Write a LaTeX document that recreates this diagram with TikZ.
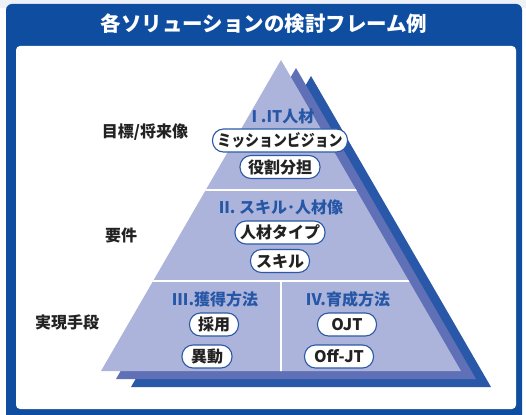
\documentclass[tikz,border=0pt]{standalone}
\usepackage{fontspec}
\setmainfont{Noto Sans CJK JP}
\definecolor{frameblue}{HTML}{0E4DA0}
\definecolor{topgray}{HTML}{EEF1F7}
\definecolor{backblue}{HTML}{2A58A9}
\definecolor{midblue}{HTML}{5F70B7}
\definecolor{lav}{HTML}{ADB4DB}
\definecolor{tierblue}{HTML}{2656A6}
\definecolor{boxblue}{HTML}{2C59A6}
\definecolor{textdark}{HTML}{222222}
\begin{document}
\begin{tikzpicture}[x=1pt,y=-1pt,
  pill/.style={draw=boxblue, line width=1.1pt, fill=white, rounded corners=11pt,
    minimum height=23pt, inner xsep=0pt, inner ysep=0pt,
    font=\fontsize{16}{16}\selectfont\bfseries, text=textdark},
  tier/.style={font=\fontsize{16}{16}\selectfont\bfseries, text=tierblue, inner sep=0pt},
  side/.style={font=\fontsize{16}{16}\selectfont\bfseries, text=textdark, inner sep=0pt},
  divider/.style={white, line width=1.6pt}]
\useasboundingbox (0,0) rectangle (526,414);
\fill[topgray] (0,0) rectangle (526,8);
\fill[frameblue, rounded corners=6pt] (6,4) rectangle (522,430);
\fill[white, rounded corners=4pt] (16,46) rectangle (516,409);
\node[font=\fontsize{20.5}{20.5}\selectfont\bfseries, text=white, inner sep=0pt] (title) at (264,24) {各ソリューションの検討フレーム例};
% pyramid layers
\fill[backblue] (311,76) -- (131,387) -- (491,387) -- cycle;
\fill[midblue] (296,68) -- (116,379) -- (476,379) -- cycle;
\fill[lav] (281,60) -- (101,371) -- (461,371) -- cycle;
\begin{scope}
\clip (281,60) -- (101,371) -- (461,371) -- cycle;
\draw[divider] (90,190) -- (470,190);
\draw[divider] (90,281) -- (470,281);
\draw[divider] (281,281) -- (281,380);
\end{scope}
% tier I
\node[tier] (t1) at (283,116) {I .IT人材};
\node[pill, minimum width=135pt] (mission) at (280,140.5) {\scalebox{0.87}[1]{ミッションビジョン}};
\node[pill, minimum width=80pt] (role) at (280,167) {役割分担};
% tier II
\node[tier] (t2) at (281,207) {II. スキル･人材像};
\node[pill, minimum width=90pt] (type) at (280,232.5) {人材タイプ};
\node[pill, minimum width=59pt] (skill) at (280,261) {スキル};
% tier III
\node[tier] (t3) at (215,299) {III.獲得方法};
\node[pill, minimum width=49pt] (saiyo) at (214,324.5) {採用};
\node[pill, minimum width=50pt] (ido) at (207,356.5) {異動};
% tier IV
\node[tier] (t4) at (348,299) {IV.育成方法};
\node[pill, minimum width=59pt] (ojt) at (347,324.5) {OJT};
\node[pill, minimum width=69pt] (offjt) at (339,356.5) {Off-JT};
% side labels
\node[side] (s1) at (145,132) {目標/将来像};
\node[side] (s2) at (121,235) {要件};
\node[side] (s3) at (67,322) {実現手段};
\end{tikzpicture}
\end{document}
